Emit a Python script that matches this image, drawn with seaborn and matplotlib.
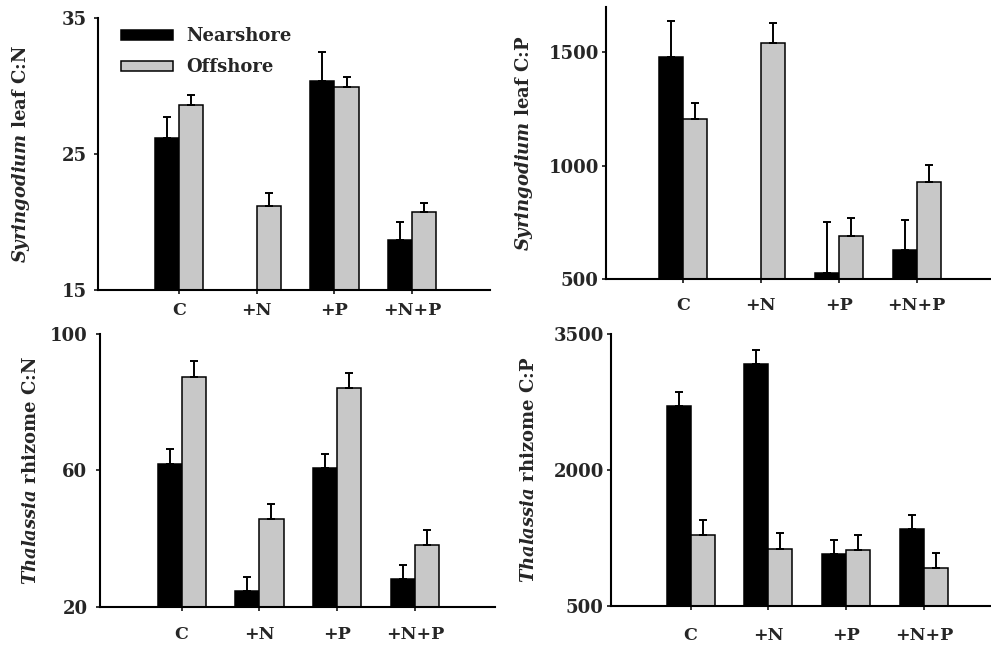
import numpy as np
import pandas as pd
import matplotlib
matplotlib.use("Agg")
import matplotlib.pyplot as plt
import seaborn as sns

treatments = ["C", "+N", "+P", "+N+P"]
sites = ["Nearshore", "Offshore"]

# Syringodium leaf C:N
syr_cn_near = [26.2, np.nan, 30.4, 18.7]
syr_cn_off = [28.6, 21.2, 29.9, 20.7]
syr_cn_near_se = [1.5, np.nan, 2.1, 1.3]
syr_cn_off_se = [0.7, 0.9, 0.75, 0.7]

# Syringodium leaf C:P
syr_cp_near = [1478, np.nan, 529, 629]
syr_cp_off = [1206, 1540, 689, 928]
syr_cp_near_se = [160, np.nan, 223, 132]
syr_cp_off_se = [69, 88, 81, 75]

# Thalassia rhizome C:N
tha_cn_near = [61.9, 24.5, 60.7, 28.1]
tha_cn_off = [87.4, 45.7, 84.3, 38.0]
tha_cn_near_se = [4.3, 4.3, 4.2, 4.2]
tha_cn_off_se = [4.6, 4.5, 4.4, 4.6]

# Thalassia rhizome C:P
tha_cp_near = [2703, 3166, 1071, 1347]
tha_cp_off = [1284, 1130, 1115, 923]
tha_cp_near_se = [161, 154, 158, 161]
tha_cp_off_se = [169, 173, 165, 166]

colors = {"Nearshore": "#000000", "Offshore": "#c8c8c8"}
bar_width = 0.62

sns.set_style("ticks")
plt.rcParams["font.family"] = "DejaVu Serif"
plt.rcParams["font.weight"] = "bold"
plt.rcParams["mathtext.fontset"] = "custom"
plt.rcParams["mathtext.it"] = "DejaVu Serif:italic:bold"
plt.rcParams["mathtext.rm"] = "DejaVu Serif:bold"


def draw_panel(ax, near, off, near_se, off_se, ylabel, ylim, yticks, xlim,
               xpad, ypad, ylab_x, legend=False):
    df = pd.DataFrame({
        "treatment": treatments * 2,
        "site": [sites[0]] * 4 + [sites[1]] * 4,
        "value": list(near) + list(off),
    })
    sns.barplot(data=df, x="treatment", y="value", hue="site", order=treatments,
                hue_order=sites, palette=colors, width=bar_width, errorbar=None,
                edgecolor="black", linewidth=1.1, legend=legend, ax=ax)
    # one sided error bars, only upwards
    off_x = bar_width / 4
    idx = np.arange(len(treatments))
    for vals, se, sign in [(near, near_se, -1), (off, off_se, 1)]:
        vals = np.array(vals, dtype=float)
        se = np.array(se, dtype=float)
        ok = ~np.isnan(vals)
        ax.errorbar(idx[ok] + sign * off_x, vals[ok],
                    yerr=[np.zeros(ok.sum()), se[ok]], fmt="none",
                    ecolor="black", elinewidth=1.4, capsize=3, capthick=1.4)
    ax.set_ylim(*ylim)
    ax.set_yticks(yticks)
    ax.set_xlim(*xlim)
    ax.set_xlabel("")
    ax.set_ylabel(ylabel, fontsize=13, fontweight="bold")
    ax.yaxis.set_label_coords(ylab_x, 0.5)
    sns.despine(ax=ax)
    for s in ["left", "bottom"]:
        ax.spines[s].set_linewidth(1.5)
        ax.spines[s].set_color("black")
    ax.tick_params(axis="y", length=3, width=1.3, pad=ypad, labelsize=13)
    ax.tick_params(axis="x", length=3, width=1.3, pad=xpad, labelsize=12.5)
    for t in ax.get_xticklabels() + ax.get_yticklabels():
        t.set_fontweight("bold")
    if legend:
        handles, labels = ax.get_legend_handles_labels()
        ax.legend(handles, labels, loc="upper left", bbox_to_anchor=(0.058, 0.965),
                  frameon=False, handlelength=2.9, handleheight=0.45,
                  handletextpad=0.75, labelspacing=0.7, borderpad=0,
                  borderaxespad=0, prop={"weight": "bold", "size": 13})


fig = plt.figure(figsize=(9.91, 6.48), dpi=100)
ax1 = fig.add_axes([0.0989, 0.5525, 0.3956, 0.4198])
ax2 = fig.add_axes([0.6112, 0.5690, 0.3885, 0.4207])
ax3 = fig.add_axes([0.1009, 0.0637, 0.3986, 0.4208])
ax4 = fig.add_axes([0.6162, 0.0648, 0.3834, 0.4198])

draw_panel(ax1, syr_cn_near, syr_cn_off, syr_cn_near_se, syr_cn_off_se,
           r"$\it{Syringodium}$ leaf C:N", (15, 35), [15, 25, 35],
           (-1.04, 4.0), 6, 5, -0.168, legend=True)
draw_panel(ax2, syr_cp_near, syr_cp_off, syr_cp_near_se, syr_cp_off_se,
           r"$\it{Syringodium}$ leaf C:P", (500, 1700), [500, 1000, 1500],
           (-0.99, 3.95), 10, 2, -0.183)
draw_panel(ax3, tha_cn_near, tha_cn_off, tha_cn_near_se, tha_cn_off_se,
           r"$\it{Thalassia}$ rhizome C:N", (20, 100), [20, 60, 100],
           (-1.05, 4.03), 11, 6, -0.152)
draw_panel(ax4, tha_cp_near, tha_cp_off, tha_cp_near_se, tha_cp_off_se,
           r"$\it{Thalassia}$ rhizome C:P", (500, 3500), [500, 2000, 3500],
           (-1.03, 3.86), 12, 2, -0.192)

fig.savefig("out.png", dpi=100)
